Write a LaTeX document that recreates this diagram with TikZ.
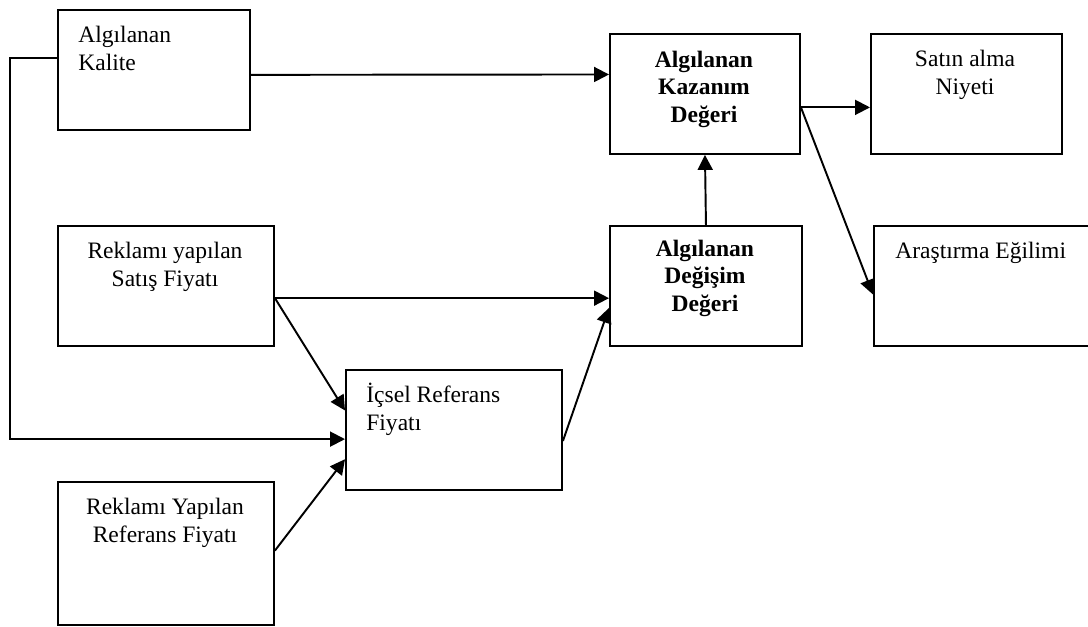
\documentclass[tikz,border=0pt]{standalone}
\usepackage{fontspec}
\setmainfont{Liberation Serif}
\usetikzlibrary{arrows.meta,calc}

\tikzset{
  box/.style={draw, line width=1.1pt, rectangle, inner sep=0pt, anchor=north west},
  lbl/.style={inner sep=0pt, font=\fontsize{13.4}{15.6}\selectfont},
  conn/.style={line width=1.1pt},
  arr/.style={conn, -{Triangle[length=8.5pt,width=8.5pt]}},
}

\begin{document}
\begin{tikzpicture}[x=0.02cm,y=-0.02cm]
  \useasboundingbox (0,0) rectangle (1088,626);
  \clip (0,0) rectangle (1088,626);

  % boxes
  \node[box, minimum width=192*0.02cm, minimum height=120*0.02cm] (kal) at (57,9) {};
  \node[box, minimum width=190*0.02cm, minimum height=120*0.02cm] (kaz) at (609,33) {};
  \node[box, minimum width=191*0.02cm, minimum height=120*0.02cm] (niy) at (870,33) {};
  \node[box, minimum width=192*0.02cm, minimum height=120*0.02cm] (deg) at (609,225) {};
  \node[box, minimum width=230*0.02cm, minimum height=120*0.02cm] (ara) at (873,225) {};
  \node[box, minimum width=216*0.02cm, minimum height=120*0.02cm] (sat) at (57,225) {};
  \node[box, minimum width=216*0.02cm, minimum height=120*0.02cm] (ic) at (345,369) {};
  \node[box, minimum width=216*0.02cm, minimum height=143*0.02cm] (ref) at (57,481) {};

  % labels (anchored on the baseline of their last line)
  \node[lbl, anchor=base west, align=left] (tkal) at (78,70) {Algılanan\\Kalite};
  \node[lbl, anchor=base, align=center, font=\fontsize{13.4}{15.6}\selectfont\bfseries] (tkaz) at (704,122) {Algılanan\\Kazanım\\Değeri};
  \node[lbl, anchor=base, align=center] (tniy) at (965,94) {Satın alma\\Niyeti};
  \node[lbl, anchor=base, align=center, font=\fontsize{13.4}{15.6}\selectfont\bfseries] (tdeg) at (705,311) {Algılanan\\Değişim\\Değeri};
  \node[lbl, anchor=base west] (tara) at (895,258) {Araştırma Eğilimi};
  \node[lbl, anchor=base, align=center] (tsat) at (165,286) {Reklamı yapılan\\Satış Fiyatı};
  \node[lbl, anchor=base west, align=left] (tic) at (366,430) {İçsel Referans\\Fiyatı};
  \node[lbl, anchor=base, align=center] (tref) at (165,542) {Reklamı Yapılan\\Referans Fiyatı};

  % connector points on the box sides
  \coordinate (kalL) at ($(kal.north west)!0.4!(kal.south west)$);
  \coordinate (kalR) at ($(kal.north east)!0.54!(kal.south east)$);
  \coordinate (kazL) at ($(kaz.north west)!0.34!(kaz.south west)$);
  \coordinate (kazR) at ($(kaz.north east)!0.61!(kaz.south east)$);
  \coordinate (niyL) at ($(niy.north west)!0.61!(niy.south west)$);
  \coordinate (araL) at ($(ara.north west)!0.57!(ara.south west)$);
  \coordinate (satR) at ($(sat.north east)!0.6!(sat.south east)$);
  \coordinate (degL) at ($(deg.north west)!0.6!(deg.south west)$);
  \coordinate (degL2) at ($(deg.north west)!0.68!(deg.south west)$);
  \coordinate (icL1) at ($(ic.north west)!0.34!(ic.south west)$);
  \coordinate (icL2) at ($(ic.north west)!0.575!(ic.south west)$);
  \coordinate (icL3) at ($(ic.north west)!0.74!(ic.south west)$);
  \coordinate (icR) at ($(ic.north east)!0.59!(ic.south east)$);
  \coordinate (refR) at ($(ref.north east)!0.48!(ref.south east)$);
  \coordinate (rail) at (10,0);

  % connectors
  \draw[arr] (kalL) -- (rail |- kalL) -- (rail |- icL2) -- (icL2);
  \draw[arr] (kalR) -- (kazL);
  \draw[arr] (kazR) -- (niyL);
  \draw[arr] (kazR) -- (araL);
  \draw[arr] (deg.north) -- (kaz.south);
  \draw[arr] (satR) -- (degL);
  \draw[arr] (satR) -- (icL1);
  \draw[arr] (icR) -- (degL2);
  \draw[arr] (refR) -- (icL3);
\end{tikzpicture}
\end{document}
